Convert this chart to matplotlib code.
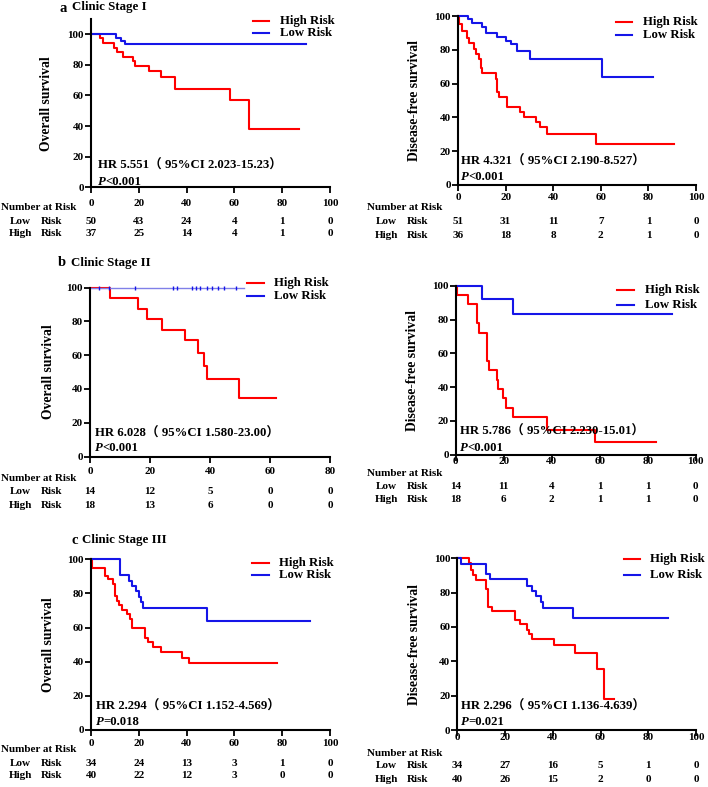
import matplotlib
matplotlib.use("Agg")
import matplotlib.pyplot as plt
from matplotlib.lines import Line2D
from matplotlib import transforms

plt.rcParams['font.family'] = ['Liberation Serif', 'Noto Sans CJK SC']
plt.rcParams['font.weight'] = 'bold'

W, H = 708, 787
RED = '#FF0000'
BLUE = '#1515E8'

# ---------------- data ----------------
# Panel a: Clinic Stage I
a_os_high_t = [0, 3.8, 5.2, 9.8, 10.7, 13.2, 17.4, 18.4, 24.3, 29.4, 35.0, 58.2, 66.2, 87.0]
a_os_high_s = [100, 97.3, 94.3, 91.3, 88.5, 85.4, 82.6, 79.5, 76.3, 72.1, 64.3, 57.1, 37.9, 37.9]
a_os_low_t = [0, 10.5, 12.4, 14.2, 90.0]
a_os_low_s = [100, 97.9, 95.8, 93.8, 93.8]
a_dfs_high_t = [0, 0.6, 1.5, 3.9, 4.6, 6.7, 7.7, 8.8, 9.5, 10.2, 15.9, 16.5, 17.3, 20.7, 25.9,
                27.7, 32.6, 34.4, 37.5, 57.8, 90.9]
a_dfs_high_s = [100, 95.1, 91.4, 87.2, 83.9, 80.4, 77.6, 74.5, 69.2, 66.4, 62.9, 55.0, 51.9, 46.0, 43.2,
                40.3, 37.1, 34.2, 30.3, 24.4, 24.4]
a_dfs_low_t = [0, 4.3, 6.0, 10.2, 11.6, 16.5, 20.0, 22.1, 24.6, 30.1, 60.6, 81.8]
a_dfs_low_s = [100, 98.0, 96.0, 93.7, 89.8, 87.4, 85.5, 83.5, 79.0, 74.5, 63.8, 63.8]

# Panel b: Clinic Stage II
b_os_high_t = [0, 6.7, 15.9, 18.9, 24.0, 31.8, 36.1, 37.9, 38.9, 49.8, 62.0]
b_os_high_s = [100, 94.1, 87.5, 81.3, 75.0, 68.8, 61.1, 53.5, 45.8, 34.4, 34.4]
b_os_low_t = [0, 51.4]
b_os_low_s = [100, 100]
b_os_low_censor = [3.1, 6.4, 15.0, 27.6, 29.0, 34.0, 35.3, 36.8, 38.9, 40.6, 42.6, 44.8, 48.7]
b_dfs_high_t = [0, 0.7, 5.1, 8.75, 9.7, 12.9, 13.9, 17.1, 17.8, 19.9, 20.8, 24.0, 38.2, 57.9, 83.3]
b_dfs_high_s = [100, 94.5, 89.0, 78.0, 72.2, 55.6, 50.0, 44.4, 38.9, 33.3, 27.8, 22.2, 14.8, 7.4, 7.4]
b_dfs_low_t = [0, 11.1, 24.0, 90.3]
b_dfs_low_s = [100, 92.3, 83.0, 83.0]

# Panel c: Clinic Stage III
c_os_high_t = [0, 0.3, 6.0, 7.3, 9.1, 9.9, 11.0, 11.8, 12.8, 14.9, 16.3, 17.2, 22.7, 23.7, 26.1, 29.1,
               37.9, 41.1, 77.7]
c_os_high_s = [100, 95.0, 90.2, 88.3, 85.3, 78.5, 75.5, 73.2, 70.3, 67.7, 64.8, 59.9, 54.0, 51.7, 48.7,
               45.8, 42.3, 39.3, 39.3]
c_os_low_t = [0, 12.1, 16.0, 17.0, 18.8, 19.9, 20.8, 21.9, 48.4, 91.6]
c_os_low_s = [100, 90.6, 87.5, 84.4, 81.3, 78.0, 75.0, 71.2, 64.0, 64.0]
c_dfs_high_t = [0, 4.9, 5.6, 6.7, 7.8, 12.1, 13.0, 14.6, 24.3, 26.1, 29.0, 30.0, 31.1, 40.5, 49.5,
                58.6, 61.4, 65.6]
c_dfs_high_s = [100, 97.1, 93.0, 90.0, 87.5, 82.1, 71.8, 69.3, 64.1, 61.6, 58.4, 55.7, 52.8, 49.5, 44.7,
                35.5, 18.0, 18.0]
c_dfs_low_t = [0, 1.7, 12.1, 13.9, 29.0, 31.4, 32.8, 34.9, 36.0, 48.4, 88.1]
c_dfs_low_s = [100, 96.7, 90.7, 87.8, 84.1, 81.0, 78.0, 74.8, 70.9, 65.4, 65.4]

# Number at risk
ticks_100 = [0, 20, 40, 60, 80, 100]
ticks_80 = [0, 20, 40, 60, 80]
a_os_nar_low = [50, 43, 24, 4, 1, 0]
a_os_nar_high = [37, 25, 14, 4, 1, 0]
a_dfs_nar_low = [51, 31, 11, 7, 1, 0]
a_dfs_nar_high = [36, 18, 8, 2, 1, 0]
b_os_nar_low = [14, 12, 5, 0, 0]
b_os_nar_high = [18, 13, 6, 0, 0]
b_dfs_nar_low = [14, 11, 4, 1, 1, 0]
b_dfs_nar_high = [18, 6, 2, 1, 1, 0]
c_os_nar_low = [34, 24, 13, 3, 1, 0]
c_os_nar_high = [40, 22, 12, 3, 0, 0]
c_dfs_nar_low = [34, 27, 16, 5, 1, 0]
c_dfs_nar_high = [40, 26, 15, 2, 0, 0]

hr_texts = {
    'a_os': ("HR 5.551（ 95%CI 2.023-15.23）", "<0.001"),
    'a_dfs': ("HR 4.321（ 95%CI 2.190-8.527）", "<0.001"),
    'b_os': ("HR 6.028（ 95%CI 1.580-23.00）", "<0.001"),
    'b_dfs': ("HR 5.786（ 95%CI 2.230-15.01）", "<0.001"),
    'c_os': ("HR 2.294（ 95%CI 1.152-4.569）", "=0.018"),
    'c_dfs': ("HR 2.296（ 95%CI 1.136-4.639）", "=0.021"),
}

fig = plt.figure(figsize=(W / 100, H / 100), dpi=100)


def fx(px):
    return px / W


def fy(py):
    return 1 - py / H


TICK_FS = 8
NAR_FS = 8
HR_FS = 9.2
LEG_FS = 9.2
YL_FS = 9.8


def make_panel(key, box, ylim, xticks, high, low, nar_low, nar_high, ylabel, ylabel_x,
               tick_y, nar_y, low_y, high_y, nar_x, leg, hr_pos, p_y, censor=None,
               low_color=BLUE, low_lw=1.5):
    left, right, top, bottom = box
    ax = fig.add_axes([fx(left), fy(bottom), (right - left) / W, (bottom - top) / H])
    ax.step(high[0], high[1], where='post', color=RED, lw=1.5, clip_on=False)
    ax.step(low[0], low[1], where='post', color=low_color, lw=low_lw, clip_on=False)
    if censor is not None:
        ax.plot(censor, [100] * len(censor), linestyle='none', marker='|', ms=3,
                mew=1.0, color=BLUE, clip_on=False)
    ax.set_xlim(xticks[0], xticks[-1])
    ax.set_ylim(*ylim)
    ax.set_yticks([0, 20, 40, 60, 80, 100])
    ax.set_xticks(xticks)
    for s in ['top', 'right']:
        ax.spines[s].set_visible(False)
    for s in ['left', 'bottom']:
        ax.spines[s].set_linewidth(1.5)
    ax.tick_params(axis='both', length=4, width=1.3, labelsize=TICK_FS)
    ax.tick_params(axis='y', pad=1)
    ax.tick_params(axis='x', labelbottom=False)
    # x tick labels and number-at-risk rows at reference positions
    tr = transforms.blended_transform_factory(ax.transData, fig.transFigure)
    for xv in xticks:
        ax.text(xv, fy(tick_y), str(xv), transform=tr, ha='center', va='center',
                fontsize=TICK_FS, fontweight='bold')
    for xv, v in zip(xticks, nar_low):
        ax.text(xv, fy(low_y), str(v), transform=tr, ha='center', va='center',
                fontsize=NAR_FS, fontweight='bold')
    for xv, v in zip(xticks, nar_high):
        ax.text(xv, fy(high_y), str(v), transform=tr, ha='center', va='center',
                fontsize=NAR_FS, fontweight='bold')
    fig.text(fx(nar_x), fy(nar_y), "Number at Risk", ha='left', va='center',
             fontsize=NAR_FS, fontweight='bold')
    fig.text(fx(nar_x + 9), fy(low_y), "Low", ha='left', va='center', fontsize=NAR_FS, fontweight='bold')
    fig.text(fx(nar_x + 40), fy(low_y), "Risk", ha='left', va='center', fontsize=NAR_FS, fontweight='bold')
    fig.text(fx(nar_x + 8), fy(high_y), "High", ha='left', va='center', fontsize=NAR_FS, fontweight='bold')
    fig.text(fx(nar_x + 40), fy(high_y), "Risk", ha='left', va='center', fontsize=NAR_FS, fontweight='bold')
    # y label
    ax.set_ylabel(ylabel, fontsize=YL_FS, fontweight='bold')
    ax.yaxis.set_label_coords(fx(ylabel_x), 0.5,
                              transform=transforms.blended_transform_factory(fig.transFigure, ax.transAxes))
    # legend (manual placement)
    lx0, lx1, tx, ry, by = leg
    fig.add_artist(Line2D([fx(lx0), fx(lx1)], [fy(ry), fy(ry)], color=RED, lw=1.5))
    fig.add_artist(Line2D([fx(lx0), fx(lx1)], [fy(by), fy(by)], color=BLUE, lw=1.5))
    fig.text(fx(tx), fy(ry), "High Risk", ha='left', va='center', fontsize=LEG_FS, fontweight='bold')
    fig.text(fx(tx), fy(by), "Low Risk", ha='left', va='center', fontsize=LEG_FS, fontweight='bold')
    # HR and P
    hr, pv = hr_texts[key]
    fig.text(fx(hr_pos[0]), fy(hr_pos[1]), hr, ha='left', va='center', fontsize=HR_FS, fontweight='bold')
    t = fig.text(fx(hr_pos[0]), fy(p_y), "P", ha='left', va='center', fontsize=HR_FS,
                 fontweight='bold', fontstyle='italic')
    ax.annotate(pv, xy=(1, 0.5), xycoords=t, ha='left', va='center', fontsize=HR_FS,
                fontweight='bold', annotation_clip=False)
    return ax


# Panel a
make_panel('a_os', (91, 330, 19.0, 187.3), (0, 110), ticks_100,
           (a_os_high_t, a_os_high_s), (a_os_low_t, a_os_low_s),
           a_os_nar_low, a_os_nar_high, "Overall survival", 53,
           204, 208, 222, 233, 1, (253, 269, 280, 21, 33), (98, 166), 182)
make_panel('a_dfs', (458, 696, 16, 185), (0, 100), ticks_100,
           (a_dfs_high_t, a_dfs_high_s), (a_dfs_low_t, a_dfs_low_s),
           a_dfs_nar_low, a_dfs_nar_high, "Disease-free survival", 421,
           198, 208, 222, 235, 367, (616, 632, 643, 22, 35), (461, 162), 177)
# Panel b
make_panel('b_os', (90, 330, 287.7, 456.5), (0, 100), ticks_80,
           (b_os_high_t, b_os_high_s), (b_os_low_t, b_os_low_s),
           b_os_nar_low, b_os_nar_high, "Overall survival", 55,
           471, 478, 492, 506, 1, (247, 264, 274, 283, 296), (95, 434), 448,
           censor=b_os_low_censor, low_color='#8080E8', low_lw=1.0)
make_panel('b_dfs', (455.7, 695.7, 285.7, 454.8), (0, 100), ticks_100,
           (b_dfs_high_t, b_dfs_high_s), (b_dfs_low_t, b_dfs_low_s),
           b_dfs_nar_low, b_dfs_nar_high, "Disease-free survival", 419,
           462, 473, 487, 500, 367, (617, 634, 645, 290, 305), (460, 432), 448)
# Panel c
make_panel('c_os', (91, 330, 559.3, 729.8), (0, 100), ticks_100,
           (c_os_high_t, c_os_high_s), (c_os_low_t, c_os_low_s),
           c_os_nar_low, c_os_nar_high, "Overall survival", 55,
           743, 749, 763, 776, 1, (252, 269, 279, 563, 575), (96, 707), 722)
make_panel('c_dfs', (457.3, 696, 558.3, 730), (0, 100), ticks_100,
           (c_dfs_high_t, c_dfs_high_s), (c_dfs_low_t, c_dfs_low_s),
           c_dfs_nar_low, c_dfs_nar_high, "Disease-free survival", 421,
           737, 753, 766, 780, 367, (624, 640, 650, 559, 575), (461, 707), 722)

# Titles
fig.text(fx(59), fy(8), "a", ha='left', va='center', fontsize=10.5, fontweight='bold')
fig.text(fx(72), fy(7), "Clinic Stage I", ha='left', va='center', fontsize=9.3, fontweight='bold')
fig.text(fx(58), fy(263), "b", ha='left', va='center', fontsize=10.5, fontweight='bold')
fig.text(fx(71), fy(263), "Clinic Stage II", ha='left', va='center', fontsize=9.3, fontweight='bold')
fig.text(fx(72), fy(540), "c", ha='left', va='center', fontsize=10.5, fontweight='bold')
fig.text(fx(82), fy(540), "Clinic Stage III", ha='left', va='center', fontsize=9.3, fontweight='bold')

fig.savefig("out.png", dpi=100)
